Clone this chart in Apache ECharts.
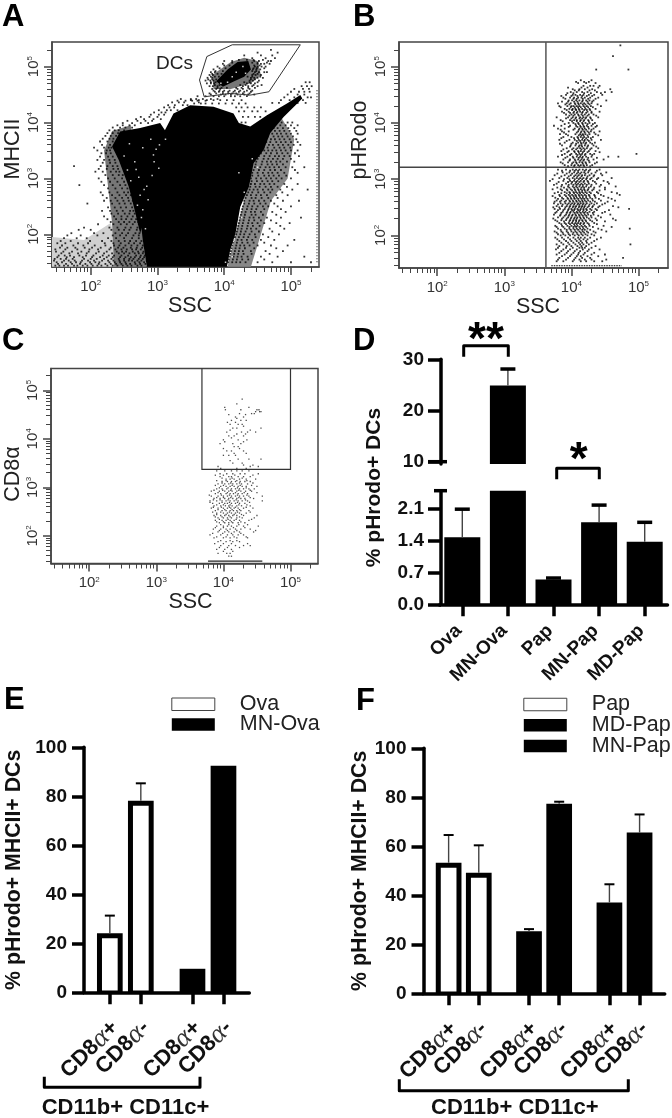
<!DOCTYPE html>
<html><head><meta charset="utf-8">
<style>html,body{margin:0;padding:0;background:#fff}#c{width:672px;height:1118px}</style>
<script src="https://cdn.jsdelivr.net/npm/echarts@6/dist/echarts.min.js"></script>
</head><body><div id="c"></div>
<script>
// ---- Flow plots: values are log10 of the fluorescence/scatter reading. Rows are [log10 y, log10 x, log10 x, ...]
const aCore=[[2.84,1.42],[2.78,1.9],[2.74,2.32],[2.87,2.85],[2.99,3.33],[3.09,3.81],[3.24,4.16],[3.49,4.31],[3.84,4.28],[4.14,4.16],[4.22,3.99],[4.39,3.93],[4.64,4.13],[4.94,4.34],[5.14,4.49],[5.17,4.43],[4.89,4.1],[4.69,3.81],[4.59,3.51],[4.44,3.27],[4.37,2.85],[4.24,2.49],[4.17,2.02],[4.09,1.72],[4.04,1.42]];
const aLobe=[[2.32,3.57],[2.44,3.84],[2.74,3.9],[3.04,3.99],[3.14,3.81],[3.04,3.09],[2.84,2.38],[2.74,2.02],[2.67,2.38],[2.57,2.85],[2.42,3.33]];
const aDcCore=[[4.05,4.95],[4.2,5.08],[4.36,5.1],[4.4,4.95],[4.3,4.82],[4.15,4.74],[3.98,4.64],[3.88,4.74]];
const aDcHaze=[[3.84,4.6],[3.82,4.85],[4.1,5.08],[4.3,5.16],[4.5,5.1],[4.55,4.85],[4.4,4.7],[4.1,4.6]];
const aLeftHaze=[[2.2,3.5],[2.32,3.85],[2.6,3.95],[2.7,2.8],[2.84,1.42],[2.35,1.42],[2.32,2.2]];
const aRightHaze=[[4.4,3.5],[4.6,3.9],[4.85,4.1],[5.05,3.7],[4.95,3.0],[4.7,2.6],[4.55,2.0],[4.4,1.42],[4.05,1.42],[4.3,2.6]];
const aFloorHaze=[[1.42,1.42],[1.42,1.95],[1.9,1.9],[2.3,2.2],[2.5,1.42]];
const aGate=[[4.12,5.39],[5.14,5.39],[4.67,4.55],[4.39,4.49],[4.09,4.52],[3.7,4.46],[3.63,4.76],[3.74,5.18],[4.12,5.39]];
const aEdge=[[5.39,1.5],[5.39,4.6]];
const aRows=[
[1.44,1.47,1.53,1.6,1.66,1.75,1.8,1.88,1.95,2.03,2.1,2.16,2.25,2.33,2.4,2.48,2.55,2.61,2.7,2.76],
[1.5,1.49,1.57,1.7,1.78,1.85,1.99,2.07,2.13,2.28,2.36,2.44,2.52,2.66,2.73,2.8],
[1.56,1.46,1.55,1.63,1.73,1.9,2.0,2.09,2.2,2.31,2.42,2.5,2.58,2.64,2.72,2.78],
[1.62,1.52,1.61,1.69,1.83,1.93,2.04,2.18,2.27,2.35,2.46,2.56,2.68,2.75,2.81],
[1.69,1.48,1.59,1.72,1.86,1.97,2.12,2.24,2.39,2.47,2.53,2.63,2.71,2.79],
[1.76,1.54,1.65,1.77,1.91,2.02,2.15,2.3,2.41,2.49,2.6,2.69,2.77],
[1.84,1.5,1.62,1.81,1.96,2.21,2.34,2.45,2.57,2.65,2.74],
[1.93,1.6,1.79,1.94,2.26,2.38,2.5,2.62,2.72],
[2.02,1.71,2.05,2.19,2.37,2.47,2.56,2.67,2.73],
[2.12,1.9,2.28,2.4,2.52,2.6,2.7],
[2.22,2.3,2.42,2.5,2.58,2.66,2.71],[2.32,2.2,2.35,2.46,2.55,2.63,2.7],[2.42,2.17,2.29,2.39,2.48,2.59,2.64],[2.55,1.95,2.32,2.43,2.51,2.6],[2.65,2.24,2.37,2.47,2.56],[2.75,2.15,2.28,2.4,2.5,2.56],[2.88,1.83,2.2,2.33,2.44,2.52],[3.0,2.12,2.26,2.36,2.47],[3.12,2.07,2.18,2.3,2.38,2.43],[3.22,1.75,2.15,2.25,2.33,2.4],[3.33,2.1,2.2,2.28,2.36],[3.45,2.16,2.23,2.3],[3.55,2.05,2.2,2.27,2.31],[3.66,2.14,2.25,2.33],[3.76,2.22,2.3,2.38],[3.86,2.28,2.36,2.42,2.5],[3.95,2.4,2.48,2.58,2.66],[4.03,2.55,2.7,2.82,2.92],[4.1,2.75,2.88,3.0],[4.18,2.95,3.06,3.12],[4.27,3.1,3.18,3.25],[4.36,3.22,3.32,3.4,3.62],[4.42,3.35,3.5,3.58,3.68,3.8,3.9],[4.34,3.55,3.65,3.72,3.82,3.92,4.02,4.12,4.22,4.32],[4.27,4.18,4.26,4.35,4.45,4.55],[4.2,4.22,4.3,4.42,4.5,4.62],[4.1,4.28,4.36,4.46,4.54],[4.0,4.26,4.32,4.7,4.78,4.86,4.95,5.02],
[4.35,4.72,4.82,5.1,5.22],[4.45,4.9,5.05,5.25,5.3],[4.55,5.0,5.12,5.2,5.28],[4.65,5.16,5.24,5.31],
[3.9,4.68,4.74,4.8,4.88,4.96,5.05],[3.8,4.66,4.72,4.79,4.85,4.93,5.0,5.1],[3.7,4.62,4.7,4.76,4.83,4.9,4.98,5.08],[3.6,4.6,4.67,4.73,4.81,4.88,4.96,5.04,5.14],[3.5,4.6,4.66,4.72,4.78,4.85,4.92,5.0,5.1],[3.4,4.52,4.6,4.68,4.76,4.82,4.9,4.98,5.12],[3.3,4.48,4.57,4.64,4.7,4.78,4.84,4.94,5.05],[3.2,4.46,4.54,4.62,4.68,4.75,4.82,4.92,5.02,5.2],[3.1,4.42,4.5,4.58,4.66,4.72,4.8,4.9,5.1],[3.0,4.4,4.48,4.55,4.63,4.7,4.78,4.86,5.0],[2.9,4.4,4.46,4.54,4.6,4.68,4.75,4.9,5.1],[2.8,4.38,4.44,4.5,4.58,4.66,4.72,4.84,5.02,5.25],[2.7,4.34,4.4,4.48,4.55,4.64,4.78,4.95],[2.6,4.3,4.38,4.44,4.52,4.6,4.7,4.88,5.12],[2.5,4.28,4.35,4.42,4.5,4.58,4.66,4.8,5.0],[2.4,4.26,4.32,4.4,4.46,4.55,4.72,4.92],[2.3,4.24,4.3,4.38,4.44,4.52,4.64,4.85,5.15],[2.2,4.22,4.28,4.36,4.42,4.5,4.6,4.78,4.98],[2.1,4.2,4.26,4.34,4.4,4.48,4.68,4.9],[2.0,4.18,4.24,4.3,4.38,4.46,4.58,4.82],[1.9,4.14,4.2,4.26,4.34,4.42,4.55,4.75,5.05],[1.8,4.12,4.18,4.24,4.3,4.38,4.5,4.7,4.95],[1.7,4.1,4.16,4.22,4.28,4.4,4.62,4.88],[1.6,4.08,4.14,4.2,4.26,4.35,4.55,4.8,5.2],[1.5,4.06,4.12,4.18,4.24,4.32,4.5,4.72,5.0,5.3],
[5.3,4.7],[5.25,4.5,4.8],[5.2,4.3,4.55,4.72],[5.15,4.42,4.62,4.76],[5.1,4.0,4.12,4.45,4.52,4.66,4.7],[5.05,3.98,4.5,4.55,4.6,4.68],[5.0,3.9,4.46,4.5,4.56,4.62],[4.95,3.84,4.43,4.48,4.54],[4.9,3.8,3.86,4.46,4.52,4.6,4.64],[4.85,3.78,3.83,4.42,4.47,4.55],[4.8,3.75,3.82,4.4,4.45,4.5,4.58],[4.75,3.72,3.79,3.84,4.38,4.43,4.52],[4.7,3.74,3.8,3.85,4.34,4.4,4.46],[4.65,3.78,3.83,3.9,4.28,4.36,4.42,4.5],[4.6,3.82,3.88,3.94,4.2,4.28,4.38],[4.55,3.86,3.92,3.98,4.06,4.14,4.22,4.3,4.4],[4.5,3.8,3.95,4.02,4.1,4.2,4.3,4.36,4.45],
[1.47,1.51,1.63,1.72,1.84,1.92,2.01,2.12,2.22,2.3,2.38,2.46,2.53,2.59,2.67,2.74,2.82],[1.53,1.45,1.6,1.67,1.76,1.87,1.96,2.05,2.17,2.26,2.34,2.43,2.5,2.57,2.62,2.7,2.76],[1.59,1.5,1.64,1.75,1.88,2.02,2.14,2.24,2.33,2.44,2.52,2.6,2.66,2.74,2.8],[1.66,1.56,1.68,1.81,1.94,2.08,2.2,2.32,2.42,2.5,2.58,2.66,2.72,2.78],[1.73,1.47,1.62,1.8,1.98,2.11,2.28,2.37,2.46,2.54,2.62,2.68,2.75],[1.8,1.57,1.74,1.89,2.06,2.22,2.35,2.43,2.52,2.61,2.7,2.78],[1.88,1.55,1.7,1.99,2.17,2.31,2.42,2.51,2.59,2.68,2.76],[1.98,1.65,1.85,2.1,2.33,2.44,2.53,2.64,2.72],[2.08,1.82,2.0,2.31,2.42,2.5,2.58,2.69],[2.18,2.11,2.34,2.45,2.54,2.63,2.72],
[2.27,2.25,2.38,2.46,2.53,2.61,2.68],[2.37,2.31,2.41,2.51,2.58,2.66],[2.48,2.26,2.36,2.45,2.53,2.62],[2.6,2.2,2.3,2.4,2.49,2.57,2.63],[2.7,2.18,2.32,2.43,2.53,2.6],[2.82,2.26,2.37,2.47,2.55],[2.94,2.16,2.29,2.4,2.5],[3.06,2.22,2.33,2.42,2.48],[3.17,2.12,2.24,2.34,2.41],[3.28,2.18,2.29,2.37],[3.39,2.14,2.26,2.33],[3.5,2.1,2.24,2.29],[3.6,2.17,2.29],[3.71,2.18,2.28,2.34],[3.81,2.25,2.33,2.41],[3.91,2.33,2.44,2.52,2.62],[3.99,2.48,2.62,2.75,2.86],[4.06,2.68,2.8,2.94,3.05],[4.14,2.9,3.02,3.1],[4.22,3.02,3.14,3.2,3.3],[4.31,3.16,3.26,3.38,3.45],[4.39,3.3,3.42,3.52,3.6,3.72],
[3.95,4.71,4.84,4.92,5.0,5.1],[3.85,4.69,4.76,4.83,4.9,4.98,5.08],[3.75,4.65,4.74,4.81,4.87,4.95,5.03],[3.65,4.63,4.69,4.78,4.85,4.92,5.0,5.1],[3.55,4.59,4.65,4.75,4.83,4.9,4.99],[3.45,4.55,4.63,4.7,4.79,4.87,4.95,5.06],[3.35,4.5,4.59,4.66,4.73,4.8,4.88,5.0],[3.25,4.47,4.56,4.65,4.72,4.79,4.88],[3.15,4.44,4.52,4.6,4.69,4.76,4.85,5.06],[3.05,4.42,4.51,4.6,4.67,4.74,4.82,4.93],[2.95,4.41,4.49,4.57,4.65,4.72,4.81],[2.85,4.39,4.47,4.53,4.62,4.7,4.8,4.94],[2.75,4.36,4.42,4.51,4.6,4.69,4.87],[2.65,4.32,4.41,4.47,4.56,4.66,4.8],[2.55,4.3,4.37,4.45,4.54,4.62,4.75],[2.45,4.27,4.34,4.41,4.48,4.6,4.85],[2.35,4.25,4.31,4.41,4.47,4.58,4.78],[2.25,4.23,4.29,4.37,4.45,4.55,4.7],[2.15,4.21,4.27,4.35,4.43,4.53,4.84],[2.05,4.19,4.25,4.32,4.41,4.52,4.72],[1.95,4.16,4.22,4.29,4.36,4.47,4.66],[1.85,4.13,4.19,4.27,4.35,4.44,4.6],[1.75,4.11,4.17,4.23,4.31,4.45,4.78],[1.65,4.09,4.15,4.21,4.29,4.41,4.68],[1.55,4.07,4.13,4.19,4.27,4.36,4.6],
[5.12,4.22,4.34,4.44,4.58],[5.07,4.12,4.42,4.5,4.64],[5.02,4.0,4.08,4.45,4.53],[4.97,3.93,4.02,4.44,4.49,4.6],[4.92,3.87,3.98,4.42,4.48],[4.87,3.82,3.9,3.96,4.44,4.5],[4.82,3.8,3.86,3.92,4.35,4.42,4.54],[4.77,3.76,3.82,3.88,4.4,4.46],[4.72,3.8,3.87,4.3,4.38,4.5],[4.67,3.86,3.93,4.24,4.32,4.44,4.56],[4.62,3.9,3.96,4.04,4.18,4.26,4.36,4.46],[4.57,3.84,3.93,4.0,4.08,4.16,4.24,4.34,4.42],[4.52,3.78,3.88,3.98,4.06,4.12,4.18,4.28,4.38],[4.47,3.6,3.72,3.84,3.92,4.0,4.1,4.16,4.24,4.34],[4.4,3.5,3.62,3.74,3.84,3.94,4.04,4.14,4.26],
[4.4,4.85,4.98,5.08,5.18],[4.5,4.95,5.1,5.2],[4.6,5.05,5.18,5.27],[4.72,5.22,5.28]
];
const aGaps=[[2.5,3.4],[2.58,3.62],[2.66,3.3],[2.78,3.55],[2.9,3.7],[2.95,3.3],[2.98,3.52],[3.02,3.18],[2.72,3.02],[2.6,2.96],[2.8,2.8],[2.86,2.62],[2.7,2.52],[2.76,2.3],[2.82,2.1],[2.84,2.86],[2.92,3.05],[2.68,3.16],[2.55,3.15],[2.74,2.7],[2.78,2.44],[2.94,3.42],[3.03,3.6],[3.12,3.7],[4.5,3.2],[4.42,3.35],[4.22,3.1],[4.3,2.75],[4.26,2.3],[4.15,1.9],[4.12,1.6],[4.02,1.5],[4.18,4.9],[4.28,5.0],[4.32,4.88],[4.12,4.82],[4.05,4.72],[3.95,4.7],[4.3,4.05],[4.2,4.08]];

const bRows=[
[5.38,4.73],[5.19,4.62],[4.95,4.37,4.85],[4.76,4.14,4.3],[4.71,4.1,4.22,4.36],[4.66,4.18,4.28,4.33,4.42],[4.6,4.02,4.12,4.2,4.31,4.58],[4.55,3.99,4.08,4.16,4.24,4.38,4.5,4.6],
[4.5,3.92,4.02,4.06,4.13,4.18,4.26,4.34,4.46],[4.45,3.88,3.98,4.04,4.1,4.15,4.2,4.28,4.4],[4.4,3.96,4.01,4.07,4.12,4.17,4.22,4.27,4.33,4.52],[4.35,3.8,3.93,3.99,4.05,4.1,4.14,4.19,4.25,4.3],[4.3,3.82,3.94,4.0,4.03,4.08,4.12,4.18,4.23,4.29,4.44],[4.25,3.9,3.97,4.02,4.06,4.11,4.16,4.21,4.27,4.36],[4.2,3.86,3.96,4.04,4.09,4.13,4.17,4.24,4.3,4.42],[4.15,3.92,4.0,4.05,4.1,4.15,4.2,4.26,4.33],[4.1,3.78,3.95,4.02,4.07,4.13,4.18,4.22,4.28,4.4],[4.05,3.84,3.98,4.04,4.08,4.14,4.19,4.25,4.31],
[4.0,3.96,4.03,4.1,4.16,4.21,4.27,4.35],[3.95,3.74,3.85,3.98,4.07,4.13,4.18,4.23,4.3,4.38],[3.9,3.8,3.9,4.05,4.12,4.16,4.2,4.26,4.33],[3.85,3.86,3.96,4.1,4.15,4.19,4.24,4.29,4.42],[3.8,3.83,3.92,4.06,4.13,4.17,4.21,4.27,4.36],[3.75,3.88,4.0,4.09,4.14,4.19,4.25,4.32],[3.7,3.82,3.97,4.05,4.11,4.16,4.2,4.24,4.3,4.44],[3.65,3.9,4.02,4.1,4.14,4.18,4.22,4.28,4.35],[3.6,3.86,3.99,4.06,4.12,4.15,4.2,4.25,4.33],[3.55,3.93,4.03,4.09,4.13,4.18,4.23,4.3,4.4],[3.5,3.85,3.96,4.04,4.1,4.14,4.19,4.26,4.36],[3.45,3.9,4.0,4.07,4.12,4.16,4.21,4.28,4.34,4.97],[3.4,3.8,3.94,4.02,4.08,4.13,4.17,4.22,4.3,4.55,4.7],[3.35,3.88,3.98,4.05,4.1,4.15,4.19,4.24,4.33,4.48],[3.3,3.84,3.95,4.03,4.07,4.12,4.16,4.21,4.27,4.38],[3.25,3.9,4.0,4.05,4.1,4.14,4.18,4.23,4.31],
[3.17,3.8,3.92,4.02,4.07,4.12,4.17,4.22,4.28,4.42],[3.12,3.87,3.97,4.04,4.1,4.15,4.19,4.25,4.36,4.52],[3.07,3.75,3.9,3.99,4.06,4.11,4.16,4.2,4.27,4.34,4.46],[3.02,3.82,3.94,4.02,4.08,4.13,4.18,4.23,4.3,4.4,4.6],[2.97,3.68,3.88,3.98,4.04,4.09,4.14,4.19,4.24,4.32,4.48],[2.92,3.78,3.92,4.0,4.06,4.1,4.15,4.2,4.26,4.37,4.56],[2.87,3.85,3.95,4.02,4.07,4.12,4.17,4.22,4.29,4.42,4.66],[2.82,3.72,3.84,3.93,3.99,4.05,4.1,4.14,4.19,4.25,4.33,4.5],[2.77,3.8,3.9,3.97,4.03,4.07,4.12,4.16,4.21,4.27,4.38,4.6],[2.72,3.82,3.9,3.96,4.01,4.06,4.11,4.15,4.2,4.26,4.34,4.44,4.72],[2.67,3.76,3.86,3.94,3.99,4.04,4.08,4.13,4.17,4.22,4.28,4.36,4.55],[2.62,3.78,3.85,3.92,3.97,4.02,4.07,4.11,4.16,4.2,4.25,4.32,4.44,4.65],[2.57,3.74,3.84,3.91,3.96,4.01,4.05,4.1,4.14,4.18,4.23,4.3,4.38,4.5],[2.52,3.78,3.86,3.93,3.98,4.03,4.07,4.12,4.16,4.2,4.26,4.32,4.42,4.62],[2.47,3.75,3.83,3.9,3.96,4.0,4.05,4.09,4.14,4.18,4.22,4.28,4.36,4.86],[2.42,3.78,3.87,3.94,3.99,4.03,4.08,4.12,4.17,4.21,4.27,4.34,4.5],[2.37,3.74,3.84,3.92,3.97,4.02,4.06,4.11,4.15,4.2,4.25,4.33,4.58],[2.32,3.8,3.88,3.95,4.0,4.05,4.09,4.13,4.18,4.23,4.3,4.44],[2.27,3.76,3.85,3.92,3.98,4.03,4.07,4.12,4.16,4.21,4.28,4.38,4.66],[2.22,3.82,3.9,3.96,4.01,4.06,4.1,4.14,4.19,4.24,4.34],[2.17,3.76,3.86,3.94,4.0,4.05,4.09,4.15,4.2,4.27,4.48],[2.12,3.8,3.9,3.97,4.03,4.08,4.13,4.18,4.24,4.4,4.87],[2.07,3.75,3.85,3.93,4.0,4.06,4.12,4.17,4.23,4.33,4.52],[2.02,3.8,3.88,3.96,4.02,4.09,4.15,4.21,4.3],[1.96,3.76,3.86,3.95,4.03,4.1,4.14,4.2,4.28,4.44],[1.9,3.82,3.92,4.0,4.08,4.14,4.22,4.34],[1.84,3.78,3.88,3.97,4.06,4.13,4.18,4.26,4.88],[1.78,3.8,3.92,4.02,4.12,4.16,4.2,4.3],[1.72,3.85,3.95,4.05,4.13,4.24],[1.66,3.78,3.9,4.0,4.1,4.18,4.3,4.5],[1.6,3.82,3.95,4.06,4.16,4.28,4.77],[1.54,3.78,3.88,4.02,4.14,4.22,4.34,4.46],
[4.73,4.07,4.19,4.26],[4.63,3.95,4.15,4.24,4.4],[4.58,4.05,4.11,4.27,4.35],[4.53,3.94,4.03,4.19,4.29,4.44],[4.48,3.85,4.0,4.09,4.16,4.23,4.31],[4.43,3.91,4.03,4.08,4.17,4.25,4.36],[4.38,3.86,3.95,4.04,4.09,4.16,4.24,4.31],[4.33,3.91,3.97,4.06,4.11,4.17,4.21,4.27,4.39],[4.28,3.84,3.99,4.05,4.1,4.14,4.2,4.25,4.32],[4.23,3.93,4.01,4.07,4.12,4.19,4.23,4.28],[4.18,3.89,3.98,4.03,4.08,4.16,4.22,4.3],[4.13,3.97,4.03,4.11,4.17,4.24,4.37],[4.08,3.92,4.0,4.06,4.12,4.16,4.21,4.29],[4.03,3.87,4.01,4.08,4.13,4.18,4.26],
[3.98,3.9,4.06,4.11,4.17,4.24,4.32],[3.93,3.96,4.09,4.14,4.19,4.25,4.36],[3.88,3.84,4.03,4.11,4.17,4.22,4.3],[3.83,3.89,4.08,4.14,4.2,4.26,4.34],[3.78,3.95,4.11,4.15,4.18,4.24,4.4],[3.73,3.85,4.04,4.1,4.17,4.22,4.29],[3.68,3.93,4.08,4.13,4.19,4.26],[3.63,3.83,4.0,4.07,4.15,4.21,4.31],[3.58,3.98,4.11,4.16,4.24,4.37],[3.53,3.88,4.01,4.07,4.15,4.2,4.28],[3.48,3.94,4.05,4.11,4.17,4.24,4.42],[3.43,3.86,3.98,4.09,4.14,4.2,4.31],[3.38,3.91,4.03,4.11,4.16,4.25,4.38],[3.33,3.97,4.06,4.13,4.18,4.26],[3.28,3.87,4.01,4.08,4.17,4.22,4.35],[3.23,3.95,4.04,4.12,4.19,4.28],[3.15,3.86,3.98,4.05,4.1,4.2,4.26,4.38],[3.1,3.79,3.93,4.01,4.08,4.13,4.21,4.3,4.44],[3.05,3.85,3.96,4.04,4.09,4.15,4.24,4.33],[3.0,3.72,3.89,3.97,4.05,4.11,4.16,4.22,4.28,4.38],[2.95,3.81,3.95,4.01,4.07,4.12,4.18,4.25,4.35,4.54],[2.9,3.74,3.86,3.96,4.03,4.08,4.13,4.17,4.23,4.3,4.44],[2.85,3.79,3.89,3.97,4.04,4.09,4.15,4.19,4.26,4.34,4.5],[2.8,3.86,3.94,4.01,4.06,4.11,4.16,4.2,4.24,4.31,4.42],[2.75,3.75,3.85,3.93,3.98,4.04,4.09,4.13,4.18,4.23,4.29,4.4,4.68],
[2.7,3.72,3.83,3.92,3.98,4.03,4.07,4.12,4.17,4.22,4.27,4.35,4.48],[2.65,3.8,3.88,3.95,4.0,4.05,4.1,4.15,4.19,4.24,4.31,4.41,4.6],[2.6,3.75,3.83,3.9,3.98,4.03,4.08,4.13,4.17,4.22,4.28,4.35,4.54],[2.55,3.8,3.87,3.94,3.99,4.04,4.09,4.12,4.17,4.21,4.27,4.34,4.46],[2.5,3.73,3.82,3.91,3.97,4.02,4.06,4.11,4.15,4.19,4.24,4.31,4.4,4.7],[2.45,3.8,3.88,3.95,4.01,4.04,4.1,4.13,4.18,4.23,4.3,4.38,4.56],[2.4,3.76,3.85,3.93,3.98,4.05,4.09,4.14,4.19,4.24,4.32,4.46],[2.35,3.83,3.9,3.96,4.01,4.07,4.12,4.17,4.22,4.29,4.4],[2.3,3.73,3.86,3.93,3.99,4.04,4.08,4.14,4.19,4.26,4.36,4.62],[2.25,3.79,3.89,3.97,4.02,4.07,4.11,4.17,4.22,4.31,4.5],[2.2,3.85,3.92,3.98,4.04,4.08,4.13,4.18,4.26,4.38],[2.15,3.78,3.88,3.97,4.03,4.07,4.12,4.17,4.22,4.32,4.6],[2.1,3.84,3.93,3.99,4.05,4.1,4.16,4.2,4.28,4.45],[2.05,3.78,3.87,3.95,4.03,4.08,4.14,4.19,4.25,4.36],[2.0,3.84,3.91,3.98,4.05,4.11,4.17,4.24,4.34],[1.93,3.79,3.89,3.98,4.06,4.12,4.18,4.24,4.38],[1.87,3.85,3.95,4.03,4.11,4.16,4.23,4.3],[1.81,3.82,3.93,4.0,4.09,4.15,4.22,4.36],[1.75,3.77,3.88,3.98,4.08,4.17,4.26,4.42],[1.69,3.82,3.93,4.03,4.11,4.2,4.34],[1.63,3.86,3.98,4.08,4.14,4.24,4.4],[1.57,3.8,3.92,4.04,4.12,4.2,4.3,4.52]
];
const bBottom=[[3.7,1.46],[4.75,1.46]];
const bVert=[[3.62,1.43],[3.62,5.44]];
const bHorz=[[1.43,3.21],[5.44,3.21]];

const cGate=[[3.68,5.45],[3.68,3.37],[5.0,3.37],[5.0,5.45]];
const cBottom=[[3.77,1.48],[4.58,1.48]];
const cRows=[
[4.82,4.28],[4.72,4.2],[4.65,4.02,4.38],[4.6,4.03,4.26,4.5,4.53],[4.56,4.48,4.54,4.56],[4.52,4.24,4.42,4.46],[4.45,4.18,4.3],[4.38,4.12,4.26,4.34],[4.3,4.1,4.22,4.28],[4.22,4.14,4.2,4.56],[4.14,4.05,4.27,4.36,4.48],[4.06,4.08,4.16,4.3],[3.98,4.0,4.22,4.35],[3.9,3.95,4.14,4.26],[3.84,4.16,4.22],[3.75,4.05,4.12,4.3],[3.66,4.0,4.08,4.18],[3.58,4.22,4.38,4.56],[3.5,4.14,4.28],[3.43,3.92,4.4,4.52],[3.34,3.9,4.02,4.12,4.2,4.28,4.38],[3.28,3.95,4.05,4.14,4.25,4.32,4.52],
[3.22,3.95,4.08,4.12,4.22,4.3,4.4],[3.17,4.04,4.1,4.16,4.24,4.34,4.48],[3.12,3.98,4.06,4.12,4.18,4.25,4.32,4.4],[3.07,3.92,4.02,4.08,4.14,4.2,4.27,4.36],[3.02,3.96,4.04,4.1,4.16,4.22,4.28,4.34,4.5],[2.97,3.9,3.98,4.05,4.12,4.18,4.24,4.3,4.38,4.46],[2.92,3.82,3.94,4.02,4.08,4.13,4.2,4.26,4.33,4.42],[2.87,3.88,3.96,4.04,4.1,4.15,4.22,4.28,4.36],[2.82,3.82,3.92,4.0,4.06,4.12,4.18,4.24,4.3,4.38,4.58],[2.77,3.86,3.95,4.02,4.08,4.14,4.2,4.26,4.32,4.45],[2.72,3.8,3.9,3.98,4.04,4.1,4.16,4.22,4.28,4.36,4.58],[2.67,3.84,3.94,4.02,4.06,4.12,4.18,4.24,4.32],[2.62,3.86,3.96,4.03,4.08,4.13,4.2,4.27,4.4],[2.57,3.82,3.92,4.0,4.06,4.11,4.16,4.22,4.3,4.44],[2.52,3.88,3.98,4.04,4.1,4.15,4.2,4.26,4.38],[2.47,3.9,4.0,4.06,4.12,4.18,4.24,4.34],[2.42,3.86,3.96,4.02,4.08,4.14,4.2,4.3,4.5],[2.37,3.92,4.0,4.06,4.12,4.2,4.28,4.46],[2.32,3.88,3.98,4.04,4.1,4.16,4.24,4.38],[2.27,3.94,4.02,4.08,4.14,4.22,4.32],[2.2,3.9,4.0,4.06,4.12,4.2,4.3,4.52],[2.14,3.85,3.96,4.04,4.1,4.18,4.26,4.4],[2.08,3.92,4.02,4.08,4.16,4.24,4.45],[2.02,3.8,3.96,4.06,4.14,4.22,4.3],[1.96,3.86,4.0,4.1,4.2,4.36],[1.88,3.92,4.04,4.14,4.24],[1.8,3.96,4.08,4.18,4.3,4.4],[1.72,3.9,4.02,4.12],[1.64,3.92,4.05,4.1],[1.58,4.08,4.12],
[4.5,4.08,4.33],[4.42,4.2],[4.34,4.06,4.18],[4.26,4.3],[4.18,4.1,4.4],[4.1,4.2,4.33],[4.02,4.12],[3.94,4.02,4.3],[3.8,4.0,4.24],[3.7,4.16,4.34],[3.55,4.1],[3.46,4.3,4.44],[3.39,3.96,4.2,4.34],
[3.25,3.88,4.0,4.17,4.44],[3.19,3.98,4.13,4.28],[3.14,3.9,4.04,4.2,4.35],[3.09,3.98,4.11,4.24,4.44],[3.04,3.88,4.0,4.13,4.25,4.42],[2.99,3.94,4.07,4.21,4.34],[2.94,3.86,3.99,4.11,4.23,4.4],[2.89,3.92,4.06,4.18,4.31,4.5],[2.84,3.79,3.97,4.09,4.21,4.35],[2.79,3.9,4.0,4.11,4.23,4.4],[2.74,3.85,3.95,4.07,4.19,4.33],[2.69,3.8,3.98,4.09,4.21,4.39],[2.64,3.9,4.0,4.1,4.23,4.35],[2.59,3.85,3.97,4.09,4.18,4.34],[2.54,3.92,4.02,4.13,4.24],[2.49,3.84,3.96,4.09,4.21,4.4],[2.44,3.9,4.04,4.16,4.27],[2.39,3.88,3.98,4.1,4.24],[2.34,3.94,4.07,4.19,4.42],[2.29,3.9,4.0,4.12,4.26],[2.23,3.96,4.08,4.23,4.36],[2.17,3.88,4.0,4.15,4.32],[2.11,3.94,4.06,4.2,4.48],[2.05,3.84,3.99,4.12,4.26],[1.98,3.9,4.04,4.16,4.34],[1.9,3.96,4.1,4.2],[1.84,3.87,4.0,4.12,4.36],[1.76,3.94,4.06,4.24],[1.68,4.0,4.14]
];

// ---- Panel D
const dCats=['Ova','MN-Ova','Pap','MN-Pap','MD-Pap'];
const dMeans=[1.48,24.9,0.55,1.81,1.38];
const dTops=[2.1,28.1,0.58,2.19,1.81];
const dUpperTicks=[10,20,30];
const dLowerTicks=[0,0.7,1.4,2.1];

// ---- Panel E
const eSlots=['','','CD8α+','','','CD8α-','','','','','CD8α+','','','CD8α-','',''];
const eOva=[24.1,78.2];
const eOvaTop=[31.3,85.3];
const eMnOva=[9.6,92.5];

// ---- Panel F
const fSlots=['','','CD8α+','','','CD8α-','','','','','CD8α+','','','CD8α-','','','','','CD8α+','','','CD8α-','',''];
const fPap=[53.3,49.2];
const fPapTop=[64.6,60.4];
const fMdPap=[25.3,77.4];
const fMdPapTop=[26.2,78.2];
const fMnPap=[37.1,65.6];
const fMnPapTop=[44.5,73.0];
const decades=[100,1000,10000,100000];
const minorTicks=[30,40,50,60,70,80,90,200,300,400,500,600,700,800,900,2000,3000,4000,5000,6000,7000,8000,9000,20000,30000,40000,50000,60000,70000,80000,90000,200000];

const FONT='Liberation Sans';
const P=v=>Math.pow(10,v);
const rowsToPts=rows=>rows.flatMap(([y,...xs])=>xs.map(x=>[P(x),P(y)]));
const lg=pts=>pts.map(([x,y])=>[P(x),P(y)]);

const grids=[],xAxes=[],yAxes=[],series=[];
function logPanel(box,xr,yr,yName,ns){
  const g=grids.length;
  grids.push({left:box.l,top:box.t,width:box.r-box.l,height:box.b-box.t,show:true,borderColor:'#444',borderWidth:1.5,backgroundColor:'#fff'});
  const ln={lineStyle:{color:'#444',width:1.5}};
  const fmt=v=>'10{s|'+Math.round(Math.log10(v))+'}';
  const lab={color:'#333',fontFamily:FONT,fontSize:15,formatter:fmt,customValues:decades,margin:12,rich:{s:{fontSize:8,fontFamily:FONT,color:'#333',verticalAlign:'top',padding:[0,0,2,0]}}};
  const xa=xAxes.length, ya=yAxes.length;
  xAxes.push({type:'log',logBase:10,gridIndex:g,min:P(xr[0]),max:P(xr[1]),name:'SSC',nameLocation:'middle',nameGap:ns.xGap,
    nameTextStyle:{fontFamily:FONT,fontSize:21.5,color:'#222',padding:[0,0,0,ns.xPad]},
    axisLine:{show:true,...ln},axisTick:{show:true,length:8,customValues:decades,...ln},axisLabel:lab,splitLine:{show:false},minorTick:{show:false}});
  xAxes.push({type:'log',logBase:10,gridIndex:g,min:P(xr[0]),max:P(xr[1]),position:'bottom',
    axisLine:{show:false},axisTick:{show:true,length:5,customValues:minorTicks,lineStyle:{color:'#444',width:1}},axisLabel:{show:false},splitLine:{show:false}});
  yAxes.push({type:'log',logBase:10,gridIndex:g,min:P(yr[0]),max:P(yr[1]),name:yName,nameLocation:'middle',nameGap:ns.yGap,
    nameTextStyle:{fontFamily:FONT,fontSize:21.5,color:'#222',padding:ns.yPad>=0?[0,0,0,ns.yPad]:[0,-ns.yPad,0,0]},
    axisLine:{show:true,...ln},axisTick:{show:true,length:8,customValues:decades,...ln},axisLabel:{...lab,rotate:90,margin:11},splitLine:{show:false}});
  yAxes.push({type:'log',logBase:10,gridIndex:g,min:P(yr[0]),max:P(yr[1]),position:'left',
    axisLine:{show:false},axisTick:{show:true,length:5,customValues:minorTicks,lineStyle:{color:'#444',width:1}},axisLabel:{show:false},splitLine:{show:false}});
  return {xa,ya};
}
function shape(ax,pts,style,name,z){
  series.push({type:'custom',name,xAxisIndex:ax.xa,yAxisIndex:ax.ya,coordinateSystem:'cartesian2d',data:pts,silent:true,z:z||3,clip:false,
    encode:{x:0,y:1},
    renderItem:(p,api)=>{
      if(p.dataIndex!==0) return null;
      const ps=pts.map(q=>api.coord(q));
      return {type:style.fill?'polygon':'polyline',shape:{points:ps},style:{fill:style.fill||null,stroke:style.stroke||null,lineWidth:style.w||0,lineDash:style.dash||null}};
    }});
}
function dots(ax,pts,size,color,name,z){
  series.push({type:'scatter',name,xAxisIndex:ax.xa,yAxisIndex:ax.ya,data:pts,symbol:'rect',symbolSize:size,itemStyle:{color},silent:true,z:z||2});
}
// A
const A=logPanel({l:52,t:42,r:319,b:267},[1.42,5.42],[1.415,5.44],'MHCII',{xGap:26,xPad:9,yGap:28,yPad:11});
shape(A,lg(aFloorHaze),{fill:'#d0d0d0'},'floor haze',1);
shape(A,lg(aLeftHaze),{fill:'#777'},'left haze',1);
shape(A,lg(aRightHaze),{fill:'#888'},'right haze',1);
shape(A,lg(aDcHaze),{fill:'#777'},'DC haze',1);
dots(A,rowsToPts(aRows),1.8,'#000','events A');
shape(A,lg(aCore),{fill:'#000'},'blob core');
shape(A,lg(aLobe),{fill:'#000'},'blob lobe');
shape(A,lg(aDcCore),{fill:'#000'},'DC core');
dots(A,lg(aGaps),1.5,'#fff','gaps A',4);
shape(A,lg(aEdge),{stroke:'#000',w:1,dash:[1,2]},'edge A');
shape(A,lg(aGate),{stroke:'#333',w:1},'DC gate',5);
// B
const B=logPanel({l:399,t:42,r:668,b:268},[1.43,5.44],[1.42,5.44],'pHRodo',{xGap:26,xPad:9,yGap:28,yPad:30});
dots(B,rowsToPts(bRows),1.8,'#000','events B');
shape(B,lg(bBottom),{stroke:'#000',w:1.2,dash:[1.5,1]},'floor B');
shape(B,lg(bVert),{stroke:'#555',w:1.5},'quadrant x');
shape(B,lg(bHorz),{stroke:'#444',w:1.5},'quadrant y');
// C
const C=logPanel({l:51,t:368.5,r:318,b:563.5},[1.43,5.41],[1.43,5.45],'CD8α',{xGap:26,xPad:12,yGap:27,yPad:-16});
dots(C,rowsToPts(cRows),1.3,'#222','events C');
shape(C,lg(cBottom),{stroke:'#222',w:1.2},'floor C');
shape(C,lg(cGate),{stroke:'#333',w:1.2},'CD8 gate',5);

// D
const boldLab={fontFamily:FONT,fontWeight:'bold',color:'#111',fontSize:19};
const thick={lineStyle:{color:'#000',width:3.5}};
function errSeries(xa,ya,rows,capW,capH,name){
  series.push({type:'custom',name,xAxisIndex:xa,yAxisIndex:ya,data:rows,clip:false,silent:true,z:4,encode:{x:0,y:[1,2]},
    renderItem:(p,api)=>{
      const a=api.coord([api.value(0),api.value(1)]), b=api.coord([api.value(0),api.value(2)]);
      return {type:'group',children:[
        {type:'line',shape:{x1:a[0],y1:a[1],x2:b[0],y2:b[1]},style:{stroke:'#444',lineWidth:1.4}},
        {type:'line',shape:{x1:b[0]-capW/2,y1:b[1],x2:b[0]+capW/2,y2:b[1]},style:{stroke:'#000',lineWidth:capH}}]};
    }});
}
// D upper
let g=grids.length;
grids.push({left:439.5,top:359.3,width:228,height:104.7});
let xi=xAxes.length, yi=yAxes.length;
xAxes.push({type:'category',gridIndex:g,data:dCats,show:false});
yAxes.push({type:'value',gridIndex:g,min:9.55,max:30,offset:-1.5,axisLine:{show:true,...thick},axisTick:{show:true,length:13,customValues:dUpperTicks,...thick},
  axisLabel:{...boldLab,customValues:dUpperTicks,margin:17},splitLine:{show:false}});
series.push({type:'bar',name:'pHrodo upper',xAxisIndex:xi,yAxisIndex:yi,data:dMeans,barWidth:36,itemStyle:{color:'#000'},silent:true,clip:true});
errSeries(xi,yi,[[1,dMeans[1],dTops[1]]],15,3.5,'err D upper');
// D lower
g=grids.length;
grids.push({left:439.5,top:490.7,width:228,height:113.6});
xi=xAxes.length; yi=yAxes.length;
xAxes.push({type:'category',gridIndex:g,data:dCats,axisLine:{show:true,...thick},axisTick:{show:true,alignWithLabel:true,length:12,...thick},
  axisLabel:{...boldLab,fontSize:19,rotate:45,margin:20,interval:0,padding:[0,5,0,0]}});
yAxes.push({type:'value',gridIndex:g,min:0,max:2.508,offset:-1.5,name:'% pHrodo+ DCs',nameLocation:'middle',nameGap:56,
  nameTextStyle:{fontFamily:FONT,fontWeight:'bold',fontSize:21,color:'#111',padding:[0,0,0,120]},
  axisLine:{show:true,...thick},axisTick:{show:true,length:13,customValues:dLowerTicks,...thick},
  axisLabel:{...boldLab,customValues:dLowerTicks,margin:17,formatter:v=>v.toFixed(1)},splitLine:{show:false}});
series.push({type:'bar',name:'pHrodo lower',xAxisIndex:xi,yAxisIndex:yi,data:dMeans,barWidth:36,itemStyle:{color:'#000'},silent:true,clip:true});
errSeries(xi,yi,[0,2,3,4].map(i=>[i,dMeans[i],dTops[i]]),15,3.5,'err D lower');

// E, F shared
const alpha={a:{fontFamily:FONT,fontWeight:'bold',fontSize:22,color:'#111'},b:{fontFamily:'Liberation Serif',fontStyle:'italic',fontSize:27,color:'#333'}};
function pctGrid(left,top,width,slots,yName,nameGap){
  const gi=grids.length;
  grids.push({left,top,width,height:245});
  const xa=xAxes.length, ya=yAxes.length;
  const keep=(i,v)=>v!=='';
  xAxes.push({type:'category',gridIndex:gi,data:slots,axisLine:{show:true,...thick},
    axisTick:{show:true,alignWithLabel:true,length:12,interval:keep,...thick},
    axisLabel:{interval:0,rotate:45,margin:37,padding:[0,-7,0,0],rich:alpha,hideOverlap:false,
      formatter:v=>v?'{a|CD8}{b|α}{a|'+v.slice(-1)+'}':''}});
  yAxes.push({type:'value',gridIndex:gi,min:0,max:100,interval:20,name:yName,nameLocation:'middle',nameGap,
    nameTextStyle:{fontFamily:FONT,fontWeight:'bold',fontSize:21.3,color:'#111'},
    axisLine:{show:true,...thick},axisTick:{show:true,length:12,...thick},
    axisLabel:{...boldLab,margin:17},splitLine:{show:false}});
  return {xa,ya};
}
function slotPos(slots){return slots.map((s,i)=>s?i:-1).filter(i=>i>=0);}
function slotData(slots,vals,first){
  const pos=slotPos(slots), out=slots.map(()=>null);
  vals.forEach((v,k)=>{out[pos[first+k]]=v;});
  return out;
}
// Solid bar through the bar series; open bars get a white interior drawn from the same values, reaching down to the axis.
function bars(ax,name,data,open){
  series.push({type:'bar',name,xAxisIndex:ax.xa,yAxisIndex:ax.ya,data,barWidth:25.7,barGap:'-100%',silent:true,z:2,itemStyle:{color:'#000'}});
  if(open){
    const rows=data.map((v,i)=>v==null?null:[i,v]).filter(Boolean);
    series.push({type:'custom',name:name+' interior',xAxisIndex:ax.xa,yAxisIndex:ax.ya,data:rows,silent:true,z:3,clip:false,encode:{x:0,y:1},
      renderItem:(p,api)=>{
        const top=api.coord([api.value(0),api.value(1)]), base=api.coord([api.value(0),0]);
        return {type:'rect',shape:{x:top[0]-7.85,y:top[1]+5,width:15.7,height:base[1]-top[1]-6.7},style:{fill:'#fff'}};
      }});
  }
}
// E
const E=pctGrid(84,747.3,165.3,eSlots,'% pHrodo+ MHCII+ DCs',59);
const ePos=slotPos(eSlots);
bars(E,'Ova',slotData(eSlots,eOva,0),true);
bars(E,'MN-Ova',slotData(eSlots,eMnOva,2),false);
errSeries(E.xa,E.ya,eOva.map((v,i)=>[ePos[i],v,eOvaTop[i]]),10,2,'err E');
// F
const F=pctGrid(423.5,748.3,241.2,fSlots,'% pHrodo+ MHCII+ DCs',53);
const fPos=slotPos(fSlots);
bars(F,'Pap',slotData(fSlots,fPap,0),true);
bars(F,'MD-Pap',slotData(fSlots,fMdPap,2),false);
bars(F,'MN-Pap',slotData(fSlots,fMnPap,4),false);
errSeries(F.xa,F.ya,fPap.map((v,i)=>[fPos[i],v,fPapTop[i]]),10,2,'err F1');
errSeries(F.xa,F.ya,fMdPap.map((v,i)=>[fPos[i+2],v,fMdPapTop[i]]),10,2,'err F2');
errSeries(F.xa,F.ya,fMnPap.map((v,i)=>[fPos[i+4],v,fMnPapTop[i]]),10,2,'err F3');

const legText={fontFamily:FONT,fontSize:21.5,color:'#222',padding:[0,0,0,20]};
const openItem={borderWidth:1,borderColor:'#444',color:'#fff'};
const legends=[
 {left:171.3,top:693.25,padding:0,orient:'vertical',itemWidth:43,itemHeight:12.5,itemGap:-1.8,selectedMode:false,icon:'rect',textStyle:legText,
  data:[{name:'Ova',itemStyle:openItem},{name:'MN-Ova'}]},
 {left:523.3,top:693.5,padding:0,orient:'vertical',itemWidth:43,itemHeight:12.5,itemGap:-1.2,selectedMode:false,icon:'rect',textStyle:legText,
  data:[{name:'Pap',itemStyle:openItem},{name:'MD-Pap'},{name:'MN-Pap'}]}
];
const txt=(x,y,text,size,extra)=>({type:'text',x,y,silent:true,z:20,style:Object.assign({text,fill:'#000',font:size,verticalAlign:'middle'},extra||{})});
const letter=(x,y,t)=>txt(x,y,t,'bold 31px "'+FONT+'"');
const bracket=(x1,x2,yTop,yEnd)=>({type:'polyline',silent:true,z:20,shape:{points:[[x1,yEnd],[x1,yTop],[x2,yTop],[x2,yEnd]]},style:{stroke:'#000',lineWidth:3,fill:null,lineJoin:'round'}});
const seg=(x1,x2,y)=>({type:'line',silent:true,z:20,shape:{x1,y1:y,x2,y2:y},style:{stroke:'#000',lineWidth:3.5}});
const graphic=[
 letter(2,17,'A'),letter(353,17,'B'),letter(2,341,'C'),letter(353,341,'D'),letter(4,700,'E'),letter(356,701,'F'),
 txt(156,64,'DCs','19px "'+FONT+'"',{fill:'#222'}),
 bracket(463.7,508.3,345.7,356.7),bracket(556.7,599.3,468.3,479.3),
 seg(428,447,461.7),seg(434,447,490.7),
 txt(486,341,'**','bold 46px "'+FONT+'"',{align:'center'}),
 txt(578.7,461,'*','bold 46px "'+FONT+'"',{align:'center'}),
 bracket(44.3,200,1087.3,1076.7),bracket(399.3,628.3,1090.7,1079.3),
 txt(125.5,1108,'CD11b+ CD11c+','bold 22px "'+FONT+'"',{align:'center',fill:'#111'}),
 txt(514.8,1108,'CD11b+ CD11c+','bold 22px "'+FONT+'"',{align:'center',fill:'#111'})
];
const chart=echarts.init(document.getElementById('c'),null,{renderer:'canvas'});
chart.setOption({animation:false,backgroundColor:'#fff',textStyle:{fontFamily:FONT},grid:grids,xAxis:xAxes,yAxis:yAxes,series,legend:legends,graphic:{elements:graphic},tooltip:{show:false}});
</script></body></html>
